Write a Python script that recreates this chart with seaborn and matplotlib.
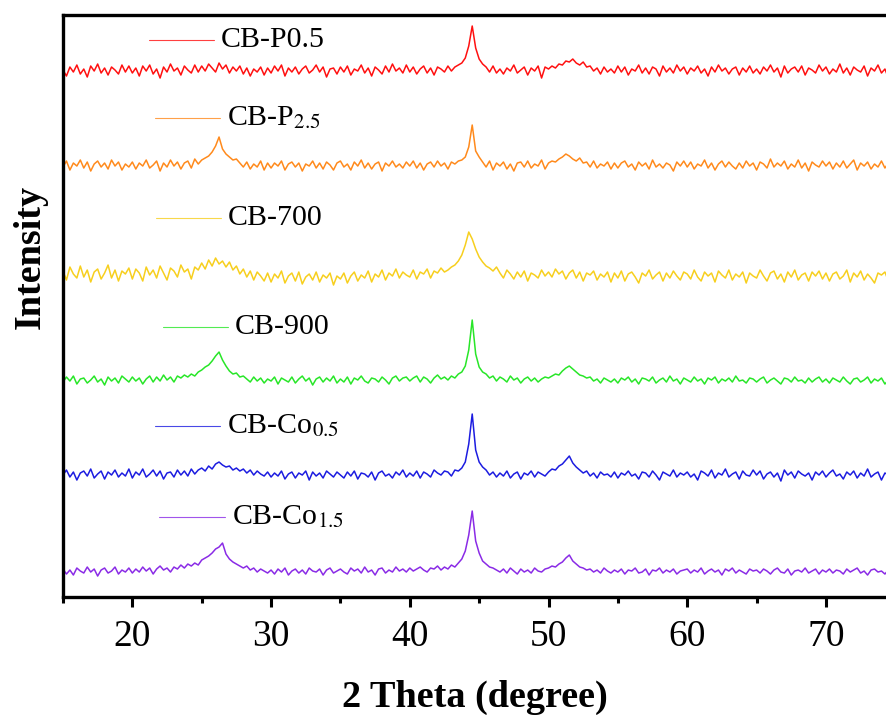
import numpy as np
import matplotlib
matplotlib.use("Agg")
import matplotlib.pyplot as plt
from matplotlib.ticker import MultipleLocator
import seaborn as sns

# XRD traces, 0.25 degree steps from 15 to 75 (relative intensity, a.u.)
two_theta_start = 15.0
two_theta_step = 0.25

cb_p05 = [0, -6, 3, -2, 5, -4, 1, -7, 4, -1, 6, -3, 2, -5, 3, 0, -4, 5, -2, 4,
          -3, 2, -6, 4, -1, 5, -4, 1, -8, 3, -2, 6, -1, 2, -5, 4, 0, -3, 5, -2,
          4, -1, 6, 2, -2, 7, 1, 5, -3, 3, -1, 4, -4, 2, -6, 1, -2, 3, -5, 2,
          -3, 4, -1, 5, -6, 2, -2, 3, -4, 1, 4, -3, 0, 5, -2, 3, -7, 1, 2, -4,
          3, -2, 4, -5, 1, -1, 5, -3, 2, -6, 3, 0, -4, 4, -2, 6, -1, 2, -3, 5,
          -2, 3, -4, 1, 4, -3, 2, -5, 3, 1, -2, 4, -1, 3, 5, 7, 12, 24, 44, 22,
          11, 6, 3, -2, 4, -3, 1, -4, 2, -1, 5, -3, 0, 3, -5, 2, -1, 4, -8, 3,
          1, 4, 2, 6, 5, 9, 8, 11, 7, 5, 8, 3, 4, -1, 2, -4, 3, -2, 1, -3,
          4, -2, 3, -5, 1, -1, 5, -3, 2, -4, 3, 1, -6, 4, -2, 2, -3, 5, -1, 3,
          -4, 2, -1, 4, -3, 1, -6, 3, -2, 5, -1, 2, -4, 1, 3, -5, 2, -2, 4, -3,
          1, -4, 3, -1, 5, -2, 2, -7, 4, -3, 1, 3, -2, 4, -5, 2, 0, -3, 5, -1,
          3, -4, 1, -2, 6, -3, 2, -5, 3, 0, -2, 4, -6, 2, -1, 5, -3, 1, -8, 3,
          0]

cb_p25 = [-2, 4, -5, 2, -1, 5, -3, 3, -6, 1, 4, -2, 2, -4, 5, -1, 3, -5, 1, -2,
          3, -4, 2, -1, 5, -3, 0, 4, -6, 2, -2, 5, -1, 3, -4, 2, 4, -3, 6, 1,
          5, 7, 9, 13, 19, 28, 16, 11, 8, 5, 6, 2, -2, 3, -4, 1, -2, 4, -5, 2,
          -3, 2, -1, 4, -5, 1, 3, -2, 2, -6, 1, -1, 4, -3, 2, -4, 3, 0, -5, 2,
          4, -2, 1, -5, 3, -1, 5, -3, 2, -4, 1, 3, -6, 2, -1, 4, -2, 1, -3, 3,
          -1, 4, -3, 2, -5, 1, 3, -2, 4, -1, 2, -4, 3, 1, 4, 5, 8, 18, 40, 14,
          8, 3, -2, 4, -5, 2, -1, 3, -4, 1, -6, 2, 3, -2, 4, -3, 1, -1, 5, -4,
          2, 4, 3, 6, 8, 11, 9, 6, 4, 7, 2, 3, -2, 4, -3, 1, -1, 3, -4, 2,
          -3, 2, 4, -2, 1, -5, 3, -1, 2, -4, 5, -2, 1, -3, 2, 0, -6, 3, -1, 4,
          -2, 3, -4, 1, -1, 5, -3, 2, -5, 1, 4, -2, 3, -1, -4, 2, -3, 4, -1, 2,
          -5, 3, 1, -3, 6, -2, 2, -1, 4, -4, 1, -2, 5, -3, 2, -6, 3, 0, -2, 4,
          -1, 3, -4, 2, -2, 4, -3, 1, 5, -5, 2, -1, 3, -4, 1, -2, 4, -3, 2, -1,
          1]

cb_700 = [4, -5, 8, 1, -3, 9, -2, 5, -7, 3, 6, -4, 2, 10, -3, 5, -6, 4, 1, 7,
          -4, 6, 2, -6, 8, 0, 5, -3, 9, 2, -5, 7, 4, -2, 10, 3, 6, -4, 8, 5,
          12, 6, 15, 9, 17, 11, 14, 8, 13, 5, 9, 1, 6, -2, 4, -5, 3, -1, -6, 2,
          -7, 1, -3, 4, -8, -1, 2, -6, 3, -9, -2, 1, -5, 3, -7, 0, -3, 2, -10, -1,
          -4, 2, -8, -1, 3, -6, 0, -3, 4, -7, 1, -2, 5, -5, 2, -1, 6, -3, 3, 0,
          -2, 5, -4, 3, 1, 6, -3, 4, 2, 7, 3, 5, 8, 10, 14, 20, 30, 43, 36, 26,
          18, 13, 9, 7, 4, 8, 2, -3, 5, 1, -4, 3, -2, 4, -6, 2, 0, -3, 5, -1,
          3, -2, 6, 1, 4, -4, 2, 5, -3, 3, -6, 2, 0, 4, -5, 1, -2, 3, -7, 2,
          -3, 4, -6, 1, 3, -2, -8, 2, -1, 5, -4, 0, 3, -6, 2, -3, 4, -1, -5, 3,
          1, -4, 5, -2, -6, 3, -1, 2, -7, 4, 0, -3, 5, -5, 1, -2, 3, -8, 2, -1,
          -3, 5, -1, -6, 2, 4, -4, 1, -7, 3, -2, 5, -5, 0, 2, -6, 3, -1, 4, -4,
          2, -6, 1, 3, -4, -1, 5, -7, 2, -2, 4, -5, 1, -3, -8, 2, 0, 3, -6, 1,
          -2]

cb_900 = [-2, 3, -1, 4, -4, 1, 2, -3, 0, 4, -2, 1, -5, 3, -1, 2, -3, 4, 1, -2,
          3, -1, 2, -4, 1, 4, -2, 3, -1, 5, 0, 3, -2, 4, 2, 5, 3, 6, 4, 8,
          10, 13, 15, 19, 24, 28, 20, 14, 9, 6, 7, 3, 4, 1, -2, 3, -1, 2, -3, 1,
          -1, 3, -4, 2, 0, -2, 3, -3, 1, 4, -1, 2, -5, 1, 3, -2, 2, -1, 4, -3,
          1, -2, 3, -4, 2, 0, 4, -1, -3, 2, 1, -2, 3, 0, -4, 2, 4, -1, 2, 3,
          -1, 2, 4, -2, 3, 1, -3, 2, 5, 1, 3, 0, 4, 2, 6, 8, 14, 30, 60, 26,
          13, 8, 6, 2, 4, -1, 3, 1, -2, 4, 0, 2, -3, 1, 3, -1, 2, -2, 1, 3,
          2, 4, 6, 5, 9, 12, 14, 11, 8, 5, 4, 2, 3, -1, 1, -3, 2, 0, -2, 1,
          -3, 2, 0, 3, -2, 1, -4, 2, 1, -1, 3, -3, 0, 2, -2, 4, -1, 1, -4, 2,
          0, -2, 3, -1, 1, -4, 2, 0, 3, -3, 1, -1, 2, -2, 4, -1, 0, -3, 2, 1,
          -2, 1, 3, -3, 0, 2, -1, -4, 2, 1, -2, 3, -1, 0, -3, 2, -2, 1, 3, -2,
          1, -3, 2, 0, -2, 3, -1, -4, 1, 2, -2, 0, 3, -3, 1, -1, 2, -4, 0, 1,
          -1]

cb_co05 = [-1, 4, -3, 2, -6, 1, 3, -2, 5, -4, 0, 3, -5, 2, -1, 4, -3, 1, -2, 5,
           -4, 2, -1, 5, -3, 0, 4, -2, 3, -5, 1, 2, -3, 4, -1, 3, -2, 5, 0, 4,
           6, 3, 8, 5, 10, 12, 9, 7, 8, 4, 6, 3, 5, 1, 4, -1, 3, 0, -2, 2,
           -3, 1, -2, 3, -5, 0, 2, -4, 1, -1, 3, -6, 2, -2, 1, -4, 3, 0, -3, 2,
           -1, -4, 2, -2, 3, -5, 1, 0, -3, 2, -6, 1, 3, -2, 0, -4, 2, -1, 4, -3,
           1, -2, 3, -4, 2, 0, -3, 4, 1, -1, 3, 2, -2, 4, 3, 6, 12, 30, 60, 24,
           12, 7, 4, -1, 2, -3, 1, -2, 3, -4, 0, 2, -5, 1, -1, 3, -3, 2, 0, -2,
           2, 5, 4, 8, 10, 14, 18, 11, 7, 4, 1, 3, -2, 1, -4, 2, -1, 0, -3, 2,
           -4, 1, -1, 3, -2, 0, -5, 2, 1, -3, 3, -1, -6, 2, 0, -2, 4, -3, 1, -1,
           2, -3, 0, -6, 3, 1, -2, 4, -4, 1, -1, 5, -3, 0, 2, -5, 3, -1, -2, 4,
           -1, 3, -5, 0, 2, -3, 1, -7, 4, -1, 2, -4, 3, 0, -2, 1, -6, 2, -1, 3,
           -3, 1, 4, -2, 0, -5, 2, -1, 3, -4, 1, -2, 5, -3, 0, 2, -6, 1, -1, 3,
           0]

cb_co15 = [2, -3, 1, -4, 3, 0, -2, 4, -1, 2, -5, 1, 3, -2, 0, 4, -3, 1, -1, 3,
           -2, 2, -1, 4, 0, 3, -3, 2, 5, 1, 3, -1, 4, 2, 6, 3, 7, 5, 8, 6,
           11, 13, 15, 18, 22, 24, 28, 17, 12, 9, 7, 5, 3, 5, 1, 3, -1, 2, 0, -2,
           1, -3, 2, -1, 3, -4, 0, 2, -2, 1, -3, 3, 0, -1, 2, -4, 1, 3, -2, 0,
           2, -1, -3, 3, 0, 2, -2, 4, -1, 1, -4, 2, 3, -2, 1, -1, 4, 0, 2, -1,
           3, 0, 2, 4, 1, -1, 3, 2, 5, 1, 4, 2, 6, 4, 8, 12, 20, 36, 60, 30,
           18, 10, 7, 4, 3, 1, -1, 2, -2, 3, 0, -3, 2, -1, 1, -2, 3, 0, -1, 2,
           3, 5, 4, 7, 9, 13, 16, 10, 7, 4, 3, 1, 2, -1, 1, -2, 3, 0, -2, 1,
           -1, 2, -3, 1, 0, 3, -2, -1, 2, -4, 1, 0, 3, -2, 1, -1, 2, -3, 0, 1,
           2, -2, 1, -1, 3, -3, 0, 2, -1, 1, -4, 2, 0, 3, -2, 1, -1, -3, 2, 0,
           1, -2, 2, 0, -3, 1, 3, -1, -2, 2, -4, 0, 1, -1, 3, -2, 0, 2, -3, 1,
           -1, 2, -2, 1, 0, -3, 2, -1, 1, 3, -2, 0, -4, 1, 2, -1, 0, -3, 1, -2,
           0]

series_names = ["CB-P0.5", "CB-P$_{2.5}$", "CB-700", "CB-900",
                "CB-Co$_{0.5}$", "CB-Co$_{1.5}$"]
series_values = [cb_p05, cb_p25, cb_700, cb_900, cb_co05, cb_co15]

# layout / style
offsets = [527, 432, 322, 217, 123, 26]
colors = ["#ff1010", "#ff8a1c", "#f7cf1e", "#28e628", "#1c1ce0", "#8a2be6"]
label_pos = [(21.2, 557), (21.6, 479), (21.7, 379), (22.2, 270), (21.6, 171), (21.95, 80)]

sns.set_style("ticks")
plt.rcParams["font.family"] = ["Liberation Serif", "DejaVu Serif"]
plt.rcParams["mathtext.fontset"] = "stix"

fig = plt.figure(figsize=(8.87, 7.15), dpi=100)
ax = fig.add_axes([0.071, 0.165, 0.929, 0.814])

for vals, off, c, name, (lx, ly) in zip(series_values, offsets, colors, series_names, label_pos):
    x = two_theta_start + two_theta_step * np.arange(len(vals))
    y = np.array(vals, dtype=float) + off
    sns.lineplot(x=x, y=y, ax=ax, color=c, lw=1.1, estimator=None, sort=False)
    ax.plot([lx, lx + 4.7], [ly, ly], color=c, lw=0.8, alpha=0.8)
    ax.text(lx + 5.2, ly, name, fontsize=21.5, va="center", ha="left", color="black")

ax.set_xlim(15, 74.4)
ax.set_ylim(0, 582)
ax.set_yticks([])
ax.xaxis.set_major_locator(MultipleLocator(10))
ax.xaxis.set_minor_locator(MultipleLocator(5))
ax.tick_params(axis="x", which="major", length=7, width=2.2, labelsize=27, pad=9,
               color="black", labelcolor="black")
ax.tick_params(axis="x", which="minor", length=4, width=2.2, color="black")
for side in ["left", "top", "bottom"]:
    ax.spines[side].set_linewidth(2.4)
    ax.spines[side].set_color("black")
ax.spines["right"].set_visible(False)

ax.set_xlabel("2 Theta (degree)", fontsize=27.5, fontweight="bold", labelpad=19, color="black")
ax.set_ylabel("Intensity", fontsize=27.5, fontweight="bold", color="black")
ax.yaxis.set_label_coords(-0.019, 0.585)

fig.savefig("out.png", dpi=100)
